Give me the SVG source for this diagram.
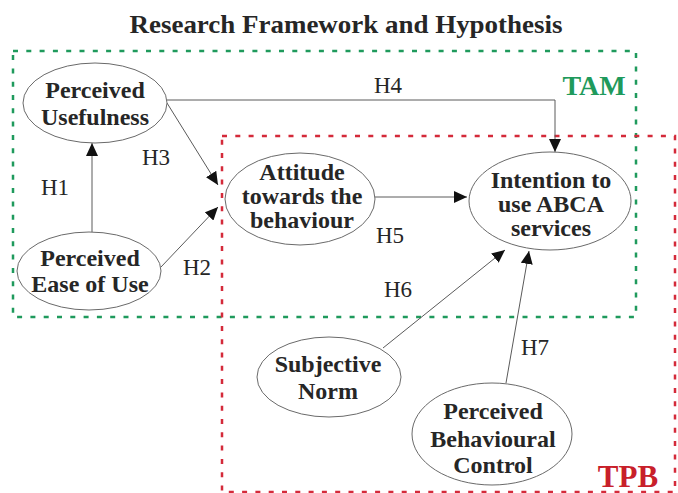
<svg xmlns="http://www.w3.org/2000/svg" width="678" height="493" viewBox="0 0 678 493">
<style>
.bg{fill:#ffffff}
.node ellipse{fill:#ffffff;stroke:#6a6a6a;stroke-width:1}
.node text{font-family:"Liberation Serif","Times New Roman",serif;font-weight:bold;font-size:24px;fill:#262626;text-anchor:middle}
.lbl{font-family:"Liberation Serif","Times New Roman",serif;font-size:23px;fill:#262626;text-anchor:middle}
.conn{stroke:#5a5a5a;stroke-width:1;fill:none}
.title{font-family:"Liberation Serif","Times New Roman",serif;font-weight:bold;font-size:25px;fill:#262626;text-anchor:middle}
</style>
<defs>
<marker id="arr" markerUnits="userSpaceOnUse" markerWidth="14" markerHeight="12" refX="13" refY="6" orient="auto">
<path d="M0,0 L13,6 L0,12 z" fill="#111"/>
</marker>
</defs>
<rect class="bg" x="0" y="0" width="678" height="493"/>
<text class="title" x="346" y="33" textLength="433" lengthAdjust="spacingAndGlyphs">Research Framework and Hypothesis</text>

<g id="tam-box">
<rect x="13" y="51" width="623" height="266" fill="none" stroke="#1f9a5c" stroke-width="2.5" stroke-dasharray="5 8.3"/>
<text x="594" y="95" font-family="Liberation Serif, serif" font-weight="bold" font-size="28" fill="#1f9a5c" text-anchor="middle">TAM</text>
</g>
<g id="tpb-box">
<rect x="222" y="136" width="453" height="356" fill="none" stroke="#d42a3a" stroke-width="2.5" stroke-dasharray="5 8.3"/>
<text x="628" y="487" font-family="Liberation Serif, serif" font-weight="bold" font-size="31" fill="#c8202a" text-anchor="middle">TPB</text>
</g>

<g id="connectors">
<line class="conn" x1="92" y1="232" x2="92" y2="143" marker-end="url(#arr)"/>
<line class="conn" x1="161" y1="267" x2="218" y2="207" marker-end="url(#arr)"/>
<line class="conn" x1="167" y1="103" x2="218" y2="185" marker-end="url(#arr)"/>
<polyline class="conn" points="167,100 555,100 555,152" marker-end="url(#arr)"/>
<line class="conn" x1="375" y1="197" x2="467" y2="197" marker-end="url(#arr)"/>
<line class="conn" x1="383" y1="348" x2="505" y2="250" marker-end="url(#arr)"/>
<line class="conn" x1="506" y1="383" x2="529" y2="251" marker-end="url(#arr)"/>
<text class="lbl" x="55" y="195">H1</text>
<text class="lbl" x="197" y="275">H2</text>
<text class="lbl" x="156" y="165">H3</text>
<text class="lbl" x="388" y="93">H4</text>
<text class="lbl" x="390" y="243">H5</text>
<text class="lbl" x="398" y="297">H6</text>
<text class="lbl" x="535" y="355">H7</text>
</g>

<g id="perceived-usefulness" class="node">
<ellipse cx="95" cy="103" rx="72" ry="40"/>
<text x="95" y="98">Perceived</text>
<text x="95" y="125">Usefulness</text>
</g>
<g id="perceived-ease-of-use" class="node">
<ellipse cx="89" cy="271" rx="72" ry="39"/>
<text x="90" y="266">Perceived</text>
<text x="90" y="292">Ease of Use</text>
</g>
<g id="attitude" class="node">
<ellipse cx="300" cy="199" rx="75" ry="46"/>
<text x="302" y="180">Attitude</text>
<text x="302" y="204">towards the</text>
<text x="302" y="228">behaviour</text>
</g>
<g id="intention" class="node">
<ellipse cx="550" cy="201" rx="81" ry="49"/>
<text x="551" y="188">Intention to</text>
<text x="551" y="212">use ABCA</text>
<text x="551" y="236">services</text>
</g>
<g id="subjective-norm" class="node">
<ellipse cx="329" cy="377" rx="72" ry="40"/>
<text x="328" y="372">Subjective</text>
<text x="328" y="399">Norm</text>
</g>
<g id="perceived-behavioural-control" class="node">
<ellipse cx="492" cy="434" rx="80" ry="51"/>
<text x="493" y="419">Perceived</text>
<text x="493" y="447">Behavioural</text>
<text x="493" y="473">Control</text>
</g>
</svg>
